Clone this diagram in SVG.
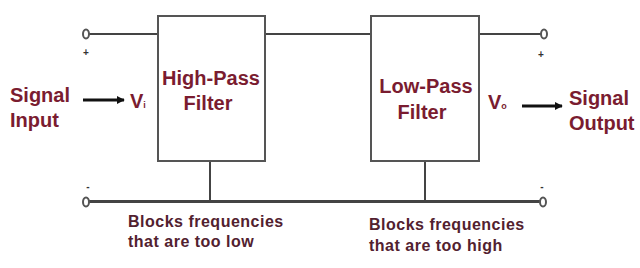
<svg xmlns="http://www.w3.org/2000/svg" width="640" height="268" viewBox="0 0 640 268">
<defs>
<marker id="ah" viewBox="0 0 10 10" refX="9" refY="5" markerWidth="8" markerHeight="8" markerUnits="userSpaceOnUse" orient="auto">
<path d="M0,0 L10,5 L0,10 Z" fill="#111"/>
</marker>
<style>
.lbl{font-family:"Liberation Sans",Arial,sans-serif;font-weight:bold;font-size:20px;fill:#7a1c30}
.note{font-family:"Liberation Sans",Arial,sans-serif;font-weight:bold;font-size:16px;fill:#52212f;letter-spacing:0.5px}
.sub{font-family:"Liberation Sans",Arial,sans-serif;font-weight:bold;font-size:9px;fill:#7a1c30}
.sign{font-family:"Liberation Sans",Arial,sans-serif;font-weight:bold;font-size:10px;fill:#333}
.box{fill:#fff;stroke:#555;stroke-width:2}
.wire{fill:none;stroke:#444;stroke-width:2}
.gnd{fill:none;stroke:#444;stroke-width:3}
.term{fill:#fff;stroke:#555;stroke-width:2}
.arrow{stroke:#111;stroke-width:3;fill:none}
</style>
</defs>
<rect width="640" height="268" fill="#fff"/>
<g id="connectors">
<line class="wire" x1="89" y1="34" x2="158" y2="34"/>
<line class="wire" x1="265" y1="34" x2="371" y2="34"/>
<line class="wire" x1="479" y1="34" x2="541" y2="34"/>
<line class="gnd" x1="89" y1="201.5" x2="540" y2="201.5"/>
<line class="wire" x1="210" y1="161" x2="210" y2="201"/>
<line class="wire" x1="425" y1="161" x2="425" y2="201"/>
<line class="arrow" x1="83" y1="100" x2="124" y2="100" marker-end="url(#ah)"/>
<line class="arrow" x1="522" y1="106" x2="562" y2="106" marker-end="url(#ah)"/>
</g>
<g id="terminal-in-plus">
<ellipse class="term" cx="86" cy="34" rx="3" ry="4.5"/>
<text class="sign" x="86" y="56" text-anchor="middle">+</text>
</g>
<g id="terminal-in-minus">
<ellipse class="term" cx="86" cy="202" rx="3" ry="4.5"/>
<text class="sign" x="88" y="190" text-anchor="middle">-</text>
</g>
<g id="terminal-out-plus">
<ellipse class="term" cx="544" cy="34" rx="3" ry="4.5"/>
<text class="sign" x="541" y="58" text-anchor="middle">+</text>
</g>
<g id="terminal-out-minus">
<ellipse class="term" cx="543" cy="202" rx="3" ry="4.5"/>
<text class="sign" x="542" y="190" text-anchor="middle">-</text>
</g>
<g id="signal-input">
<text class="lbl" x="10" y="102">Signal</text>
<text class="lbl" x="10" y="127">Input</text>
</g>
<g id="vi">
<text class="lbl" x="130" y="108">V<tspan class="sub">i</tspan></text>
</g>
<g id="high-pass">
<rect class="box" x="158" y="16" width="107" height="145"/>
<text class="lbl" x="211" y="85" text-anchor="middle">High-Pass</text>
<text class="lbl" x="208" y="110" text-anchor="middle">Filter</text>
</g>
<g id="low-pass">
<rect class="box" x="371" y="16" width="108" height="145"/>
<text class="lbl" x="426" y="93" text-anchor="middle">Low-Pass</text>
<text class="lbl" x="422" y="119" text-anchor="middle">Filter</text>
</g>
<g id="vo">
<text class="lbl" x="488" y="109">V<tspan class="sub">o</tspan></text>
</g>
<g id="signal-output">
<text class="lbl" x="569" y="105">Signal</text>
<text class="lbl" x="569" y="130">Output</text>
</g>
<g id="note-high">
<text class="note" x="128" y="227">Blocks frequencies</text>
<text class="note" x="128" y="247">that are too low</text>
</g>
<g id="note-low">
<text class="note" x="369" y="230">Blocks frequencies</text>
<text class="note" x="369" y="251">that are too high</text>
</g>
</svg>
